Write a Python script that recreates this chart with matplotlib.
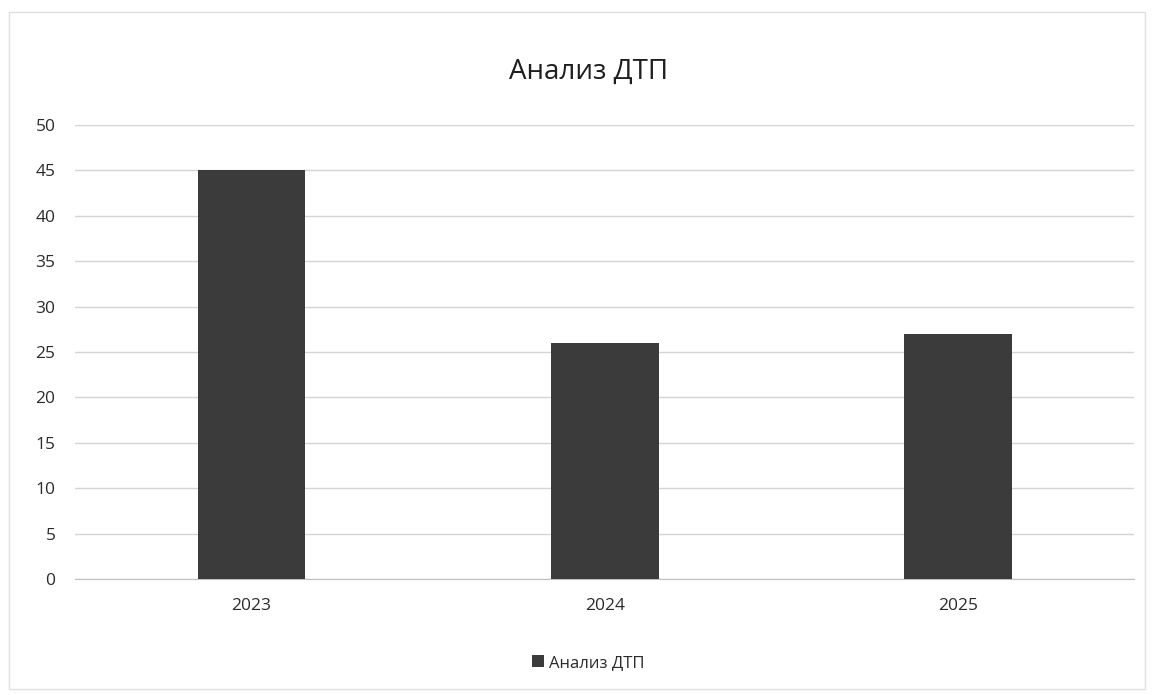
from matplotlib import pyplot as plt
from matplotlib.patches import Rectangle

years = ["2023", "2024", "2025"]
accidents = [45, 26, 27]
y_ticks = [0, 5, 10, 15, 20, 25, 30, 35, 40, 45, 50]

TITLE = "Анализ ДТП"
BAR_COLOR = "#3b3b3b"
TEXT_COLOR = "#2b2b2b"

plt.rcParams['font.family'] = ['Open Sans', 'DejaVu Sans']

fig = plt.figure(figsize=(11.54, 6.95), dpi=100)
ax = fig.add_axes([0.065, 0.167, 0.918, 0.653])

ax.bar(years, accidents, width=0.305, color=BAR_COLOR, zorder=3,
       label=TITLE)

ax.set_ylim(0, 50)
ax.set_yticks(y_ticks)
ax.set_xlim(-0.5, len(years) - 0.5)
ax.grid(axis="y", color="#d4d4d4", linewidth=1, zorder=0)
ax.tick_params(axis="both", length=0, labelsize=12.5, colors=TEXT_COLOR)
ax.tick_params(axis="x", pad=14)
ax.tick_params(axis="y", pad=14)

for side in ["top", "right", "left"]:
    ax.spines[side].set_visible(False)
ax.spines["bottom"].set_color("#bfbfbf")

fig.text(0.51, 0.897, TITLE, ha="center", va="center", fontsize=20,
         color="#1e1e1e")

fig.legend(loc="center", bbox_to_anchor=(0.51, 0.046), frameon=False,
           fontsize=12, handlelength=0.7, handleheight=0.7,
           handletextpad=0.3, labelcolor=TEXT_COLOR)

# faint outer chart border
fig.patches.append(Rectangle((0.008, 0.008), 0.984, 0.975,
                             transform=fig.transFigure, fill=False,
                             edgecolor="#e0e0e0", linewidth=1))

plt.savefig("out.png", dpi=100)
plt.close()
